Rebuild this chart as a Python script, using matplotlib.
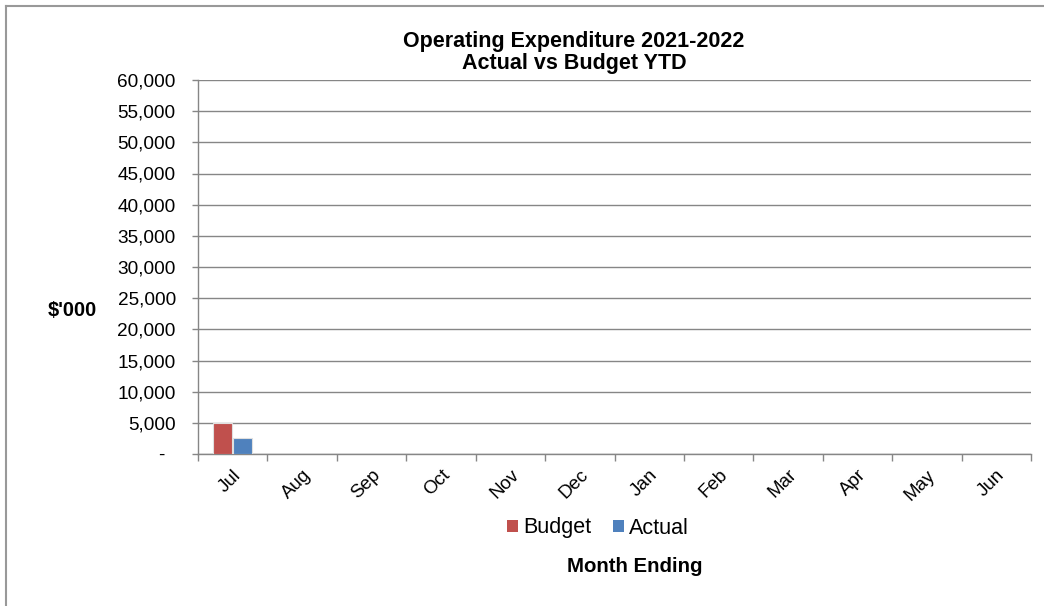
import matplotlib.pyplot as plt
import numpy as np
from matplotlib.lines import Line2D
from matplotlib.patches import Patch
from matplotlib.ticker import FuncFormatter, MultipleLocator

plt.rcParams['font.family'] = ['Liberation Sans', 'DejaVu Sans']

months = ["Jul", "Aug", "Sep", "Oct", "Nov", "Dec",
          "Jan", "Feb", "Mar", "Apr", "May", "Jun"]
budget = [4900, 0, 0, 0, 0, 0, 0, 0, 0, 0, 0, 0]
actual = [2600, 0, 0, 0, 0, 0, 0, 0, 0, 0, 0, 0]

BUDGET_COLOR = "#C0504D"
ACTUAL_COLOR = "#4F81BD"
GRID_COLOR = "#868686"

fig = plt.figure(figsize=(10.44, 6.06), dpi=100)
ax = fig.add_axes([198 / 1044, 1 - 454 / 606, (1031 - 198) / 1044, (454 - 80) / 606])

x = np.arange(len(months))
w = 0.27
ax.bar(x - w / 2 - 0.01, budget, width=w, color=BUDGET_COLOR,
       edgecolor="#e0e0e0", linewidth=0.8, zorder=3)
ax.bar(x + w / 2 + 0.01, actual, width=w, color=ACTUAL_COLOR,
       edgecolor="#e0e0e0", linewidth=0.8, zorder=3)

ax.set_xlim(-0.5, len(months) - 0.5)
ax.set_ylim(0, 60000)
ax.yaxis.set_major_locator(MultipleLocator(5000))
ax.yaxis.set_major_formatter(FuncFormatter(lambda v, _: "-  " if v == 0 else f"{v:,.0f}"))
ax.grid(axis="y", color=GRID_COLOR, linewidth=1.0, zorder=0)
ax.set_axisbelow(True)

ax.set_xticks(x)
ax.set_xticklabels(months, rotation=45, ha="right", rotation_mode="anchor")
ax.set_xticks(np.arange(-0.5, len(months)), minor=True)
ax.tick_params(axis="x", which="major", length=0, pad=9, labelsize=13.5)
ax.tick_params(axis="x", which="minor", length=5, color=GRID_COLOR, width=1.0)
ax.tick_params(axis="y", length=4, color=GRID_COLOR, width=1.0, pad=12, labelsize=13.7)

for side in ("top", "right"):
    ax.spines[side].set_visible(False)
for side in ("left", "bottom"):
    ax.spines[side].set_color(GRID_COLOR)
    ax.spines[side].set_linewidth(1.0)

fig.text(574 / 1044, 1 - 42 / 606, "Operating Expenditure 2021-2022",
         ha="center", va="center", fontsize=15.5, fontweight="bold")
fig.text(574 / 1044, 1 - 63 / 606, "Actual vs Budget YTD",
         ha="center", va="center", fontsize=15.5, fontweight="bold")
fig.text(72 / 1044, 1 - 310 / 606, "$'000", ha="center", va="center",
         fontsize=14.5, fontweight="bold")
fig.text(635 / 1044, 1 - 567 / 606, "Month Ending", ha="center", va="center",
         fontsize=14.7, fontweight="bold")

handles = [Patch(facecolor=BUDGET_COLOR), Patch(facecolor=ACTUAL_COLOR)]
fig.legend(handles, ["Budget", "Actual"], loc="center",
           bbox_to_anchor=(598 / 1044, 1 - 528 / 606), ncol=2, frameon=False,
           fontsize=15.5, handlelength=0.5, handleheight=0.5, handletextpad=0.25,
           columnspacing=1.0)

# outer chart border (only top/left visible in the crop)
fig.add_artist(Line2D([6 / 1044, 6 / 1044], [0, 1 - 6 / 606],
                      color="#999999", linewidth=1.5, transform=fig.transFigure))
fig.add_artist(Line2D([6 / 1044, 1], [1 - 6 / 606, 1 - 6 / 606],
                      color="#999999", linewidth=1.5, transform=fig.transFigure))

fig.savefig("out.png", dpi=100)
